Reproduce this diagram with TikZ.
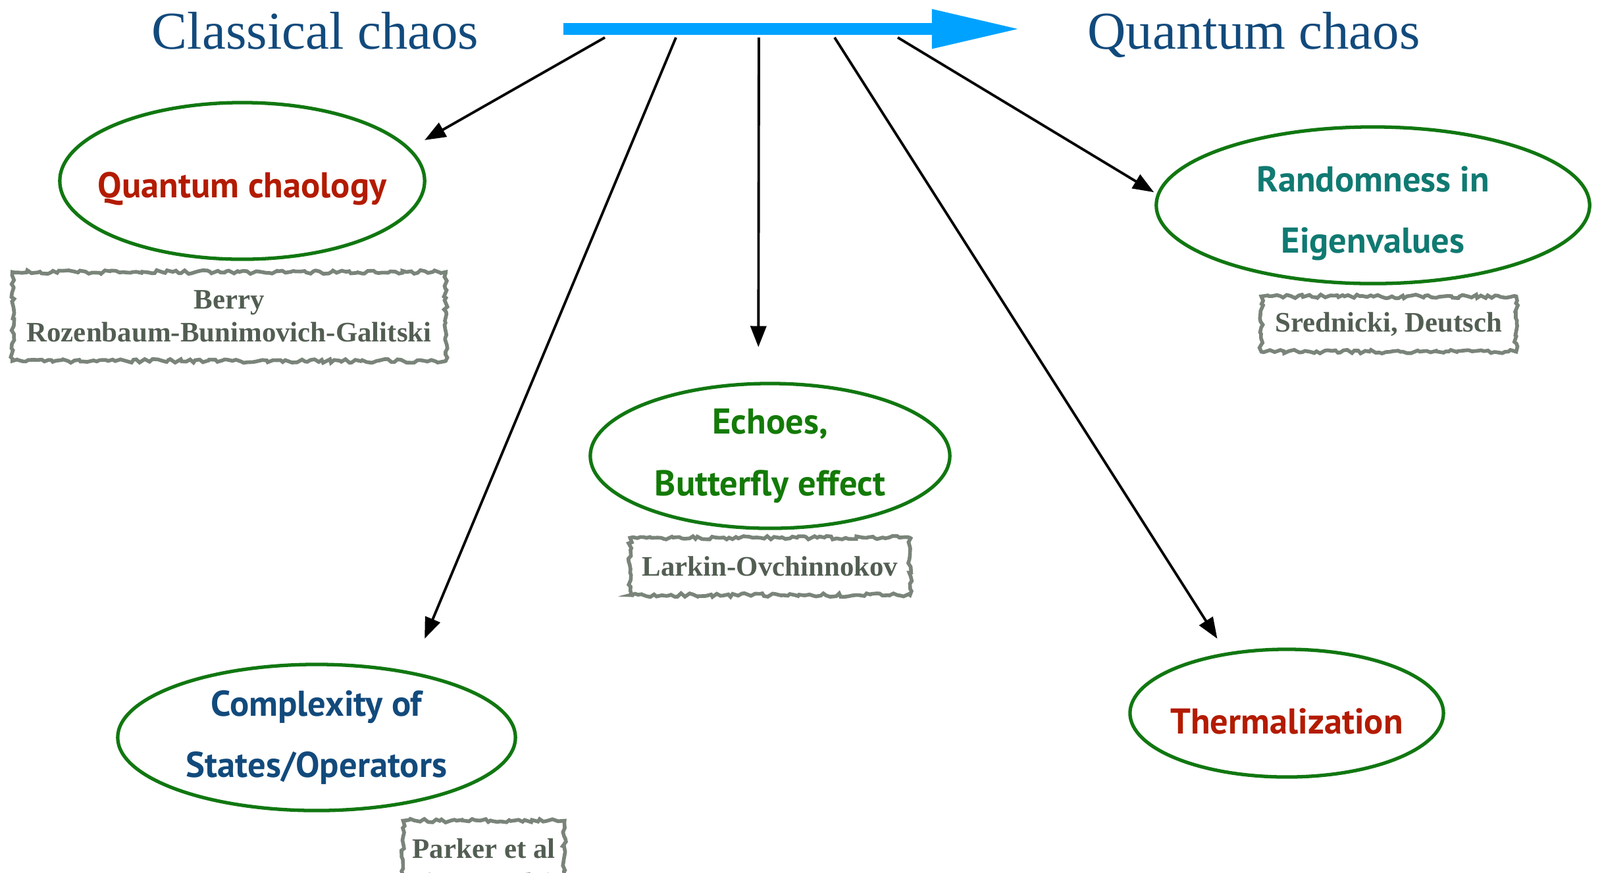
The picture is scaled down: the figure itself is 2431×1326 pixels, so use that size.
\documentclass[tikz,border=0pt]{standalone}
\usepackage{fontspec}
\setmainfont{Liberation Serif}
\newfontfamily\handfont{PT Sans}
\usepackage{xcolor}
\usepackage{tikz}
\usetikzlibrary{arrows.meta,positioning,shapes.geometric,decorations.pathmorphing}

\definecolor{titleblue}{HTML}{124A7C}
\definecolor{flowblue}{HTML}{00A2FF}
\definecolor{ringgreen}{HTML}{117711}
\definecolor{chaored}{HTML}{B31B00}
\definecolor{eigteal}{HTML}{107A72}
\definecolor{echogreen}{HTML}{137A07}
\definecolor{boxgrey}{HTML}{7A847A}
\definecolor{refgrey}{HTML}{535E53}

\newcommand{\lift}{\rule{0pt}{18pt}}

\begin{document}
\begin{tikzpicture}[
  x=0.01cm, y=-0.01cm,
  topic/.style={ellipse, draw=ringgreen, line width=1.5pt, inner xsep=-2cm, inner ysep=-1cm, align=center,
    font=\handfont\bfseries\fontsize{15.5}{26.5}\selectfont},
  refbox/.style={draw=boxgrey, line width=1.6pt, decorate,
    decoration={random steps, segment length=1.5pt, amplitude=0.8pt},
    text=refgrey, align=center, inner sep=0pt, font=\bfseries\fontsize{12.2}{14.2}\selectfont},
  heading/.style={anchor=base, text=titleblue, font=\fontsize{23}{26}\selectfont},
  feed/.style={-{Triangle[length=0.32cm,width=0.24cm]}, line width=1.1pt}
]
  \useasboundingbox (0,0) rectangle (2431,1326);

  % headings and the main arrow
  \node[heading] (classical) at (479,74) {Classical chaos};
  \node[heading] (quantum) at (1905,74) {Quantum chaos};
  \coordinate (flow-start) at (856,44);
  \coordinate (flow-end) at (1552,44);
  \draw[flowblue, line width=0.18cm, -{Triangle[length=1.36cm,width=0.55cm]}] (flow-start) -- (flow-end);

  % topics
  \node[topic, text=chaored, minimum width=5.54cm, minimum height=2.38cm] (chaology) at (368,275) {\lift Quantum chaology};
  \node[topic, text=eigteal, minimum width=6.58cm, minimum height=2.38cm] (eigen) at (2086,312) {\lift Randomness in\\Eigenvalues};
  \node[topic, text=echogreen, minimum width=5.46cm, minimum height=2.2cm] (echo) at (1170,693) {Echoes,\\Butterfly effect};
  \node[topic, text=titleblue, minimum width=6.04cm, minimum height=2.22cm] (complex) at (481,1121) {Complexity of\\States/Operators};
  \node[topic, text=chaored, minimum width=4.76cm, minimum height=1.94cm] (thermal) at (1955,1084) {\lift Thermalization};

  % references
  \node[refbox, minimum width=6.58cm, minimum height=1.35cm, below=0.14cm of chaology, xshift=-0.2cm] (berry) {Berry\\Rozenbaum-Bunimovich-Galitski};
  \node[refbox, minimum width=3.87cm, minimum height=0.84cm, below=0.14cm of eigen, xshift=0.24cm] (sred) {Srednicki, Deutsch};
  \node[refbox, minimum width=4.25cm, minimum height=0.87cm, below=0.09cm of echo] (larkin) {Larkin-Ovchinnokov};
  \node[refbox, minimum width=2.45cm, minimum height=0.84cm, below=0.1cm of complex, xshift=2.54cm] (parker) {Parker et al};

  % branches off the main arrow
  \coordinate (b1) at (919,57);
  \coordinate (b2) at (1027,57);
  \coordinate (b3) at (1153,57);
  \coordinate (b4) at (1268,57);
  \coordinate (b5) at (1364,57);
  \draw[feed, shorten >=0.25cm] (b1) -- (chaology.11);
  \draw[feed, shorten >=0.54cm] (b2) -- (complex.35.6);
  \draw[feed, shorten >=0.53cm] (b3) -- (echo.99);
  \draw[feed, shorten >=0.25cm] (b4) -- (thermal.135);
  \draw[feed, shorten >=0.05cm] (b5) -- (eigen.177.7);
\end{tikzpicture}
\end{document}
